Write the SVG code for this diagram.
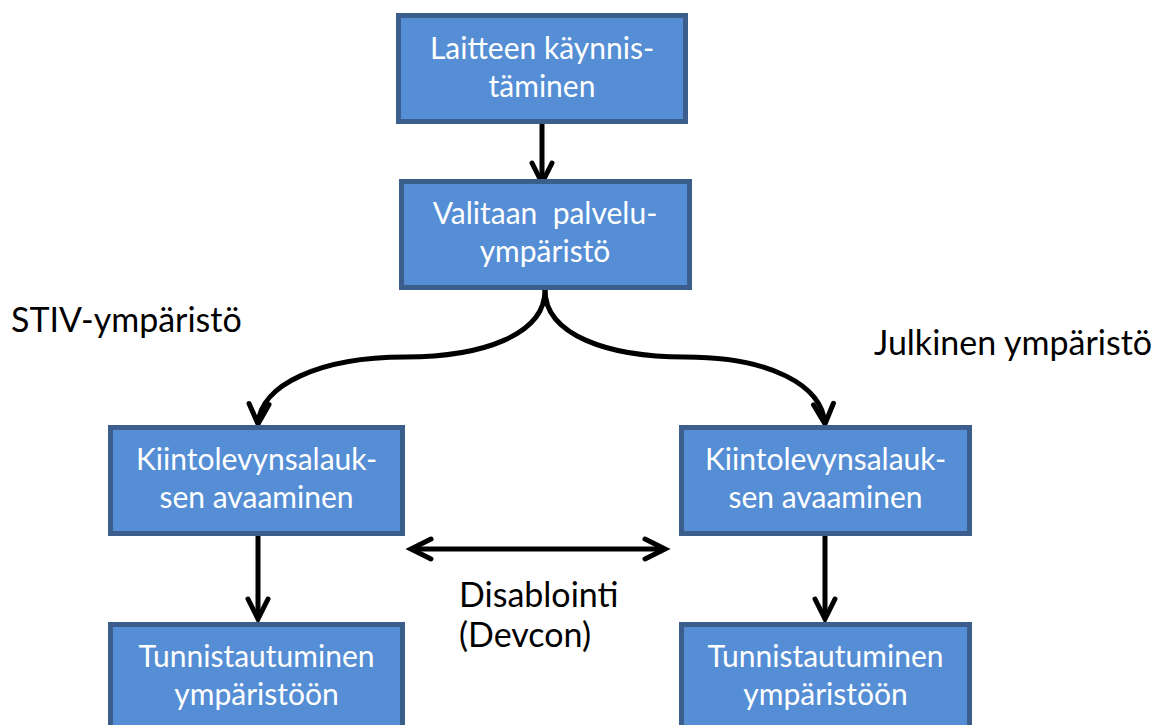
<svg xmlns="http://www.w3.org/2000/svg" width="1161" height="725" viewBox="0 0 1161 725">
  <style>
    .box { fill: #558ED5; stroke: #3B5E8C; stroke-width: 5; }
    .btxt { font-family: Lato, "Open Sans", "Liberation Sans", sans-serif; font-size: 30px; fill: #FFFFFF; text-anchor: middle; }
    .lbl { font-family: Lato, "Open Sans", "Liberation Sans", sans-serif; font-size: 34px; fill: #000000; }
    .conn { fill: none; stroke: #000000; stroke-width: 5; }
  </style>
  <defs>
    <marker id="head" markerUnits="userSpaceOnUse" orient="auto-start-reverse" refX="0" refY="0" markerWidth="30" markerHeight="30" viewBox="-25 -15 30 30" overflow="visible">
      <path d="M-20,-10 L0,0 L-20,10" fill="none" stroke="#000000" stroke-width="5" stroke-linecap="round" stroke-linejoin="miter"/>
    </marker>
  </defs>

  <rect width="1161" height="725" fill="#FFFFFF"/>

  <!-- connectors -->
  <g id="connectors">
    <path class="conn" d="M542,124 L542,183" marker-end="url(#head)"/>
    <path class="conn" d="M545,290 C545,335 482,357 405,357 C320,357 260,385 258,424" marker-end="url(#head)"/>
    <path class="conn" d="M545,290 C545,335 608,357 685,357 C770,357 822,385 825,424" marker-end="url(#head)"/>
    <path class="conn" d="M258,536 L258,619" marker-end="url(#head)"/>
    <path class="conn" d="M825,536 L825,619" marker-end="url(#head)"/>
    <path class="conn" d="M411,549 L665,549" marker-start="url(#head)" marker-end="url(#head)"/>
  </g>

  <!-- process steps -->
  <g id="startup">
    <rect class="box" x="398.5" y="15.5" width="287" height="106"/>
    <text class="btxt" x="542" y="59">Laitteen käynnis-</text>
    <text class="btxt" x="542" y="97">täminen</text>
  </g>

  <g id="select-env">
    <rect class="box" x="401.5" y="181.5" width="288" height="106"/>
    <text class="btxt" x="545" y="224" xml:space="preserve">Valitaan  palvelu-</text>
    <text class="btxt" x="545" y="262">ympäristö</text>
  </g>

  <g id="unlock-stiv">
    <rect class="box" x="110.5" y="427.5" width="292" height="106"/>
    <text class="btxt" x="256.5" y="470">Kiintolevynsalauk-</text>
    <text class="btxt" x="256.5" y="508">sen avaaminen</text>
  </g>

  <g id="unlock-public">
    <rect class="box" x="681.5" y="427.5" width="288" height="106"/>
    <text class="btxt" x="825.5" y="470">Kiintolevynsalauk-</text>
    <text class="btxt" x="825.5" y="508">sen avaaminen</text>
  </g>

  <g id="auth-stiv">
    <rect class="box" x="110.5" y="624.5" width="292" height="120"/>
    <text class="btxt" x="256.5" y="667">Tunnistautuminen</text>
    <text class="btxt" x="256.5" y="705">ympäristöön</text>
  </g>

  <g id="auth-public">
    <rect class="box" x="681.5" y="624.5" width="288" height="120"/>
    <text class="btxt" x="825.5" y="667">Tunnistautuminen</text>
    <text class="btxt" x="825.5" y="705">ympäristöön</text>
  </g>

  <!-- free labels -->
  <g id="labels">
    <text class="lbl" x="11" y="332">STIV-ympäristö</text>
    <text class="lbl" x="874" y="355">Julkinen ympäristö</text>
    <text class="lbl" x="459" y="607">Disablointi</text>
    <text class="lbl" x="459" y="647">(Devcon)</text>
  </g>
</svg>
